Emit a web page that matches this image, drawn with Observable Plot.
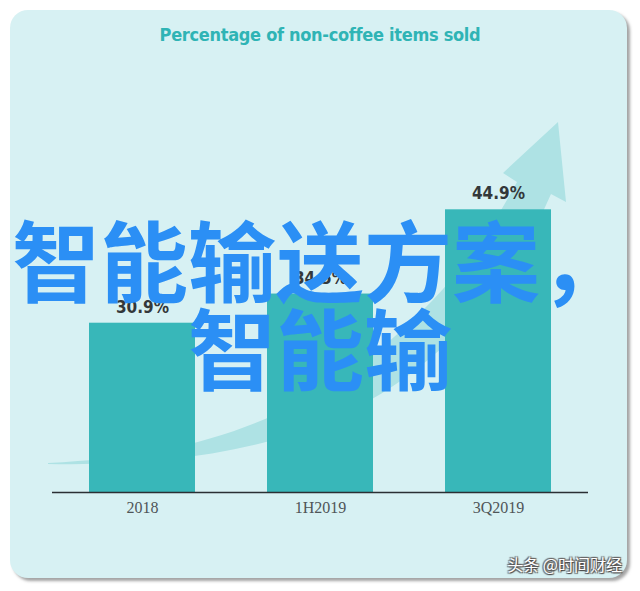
<!DOCTYPE html>
<html>
<head>
<meta charset="utf-8">
<script src="https://cdn.jsdelivr.net/npm/d3@7"></script>
<script src="https://cdn.jsdelivr.net/npm/@observablehq/plot@0.6"></script>
<style>
  html, body { margin: 0; padding: 0; background: #ffffff; }
  #wrap { position: relative; width: 640px; height: 591px; overflow: hidden; }
  #card { position: absolute; left: 10px; top: 10px; width: 617px; height: 568px;
          border-radius: 18px; background: #d7f1f3;
          box-shadow: 3px 3px 3px rgba(90,90,90,0.55); }
  #title { position: absolute; left: 0; width: 640px; top: 24px; text-align: center;
           font-family: "DejaVu Sans Condensed", "DejaVu Sans", sans-serif; font-weight: bold;
           font-size: 18px; color: #2fb4b5; letter-spacing: -0.3px; }
  #deco { position: absolute; left: 0; top: 0; }
  #chart { position: absolute; left: 0; top: 0; }
  #overlay { position: absolute; left: 0; top: 213px; width: 640px; text-align: center;
             font-family: "Noto Sans CJK SC", sans-serif; font-weight: 700; font-size: 88px;
             line-height: 88px; color: #2b8ff5; }
  #mark { position: absolute; right: 18px; top: 552px; font-family: "Noto Sans CJK SC", sans-serif;
          font-size: 16px; color: #ffffff;
          text-shadow: 1px 1px 1px #444, -1px -1px 1px #666, 1px -1px 1px #666, -1px 1px 1px #666; }
</style>
</head>
<body>
<div id="wrap">
  <div id="card"></div>
  <div id="title"></div>
  <svg id="deco" width="640" height="591">
    <path d="M 48 463 C 150 458, 230 440, 300 402 C 380 358, 460 290, 517 182 L 503 173 L 558 122 L 566 202 L 551 194 C 505 300, 425 380, 330 420 C 250 455, 150 466, 48 464 Z" fill="#aee2e4"/>
  </svg>
  <div id="chart"></div>
  <div id="overlay"></div>
  <div id="mark"></div>
</div>
<script>
// ---- data ----
const categories = ["2018", "1H2019", "3Q2019"];
const values = [30.9, 34.5, 44.9];
const valueLabels = ["30.9%", "34.5%", "44.9%"];
const titleText = "Percentage of non-coffee items sold";
const overlayLines = ["智能输送方案，", "智能输"];
const watermark = "头条 @时间财经";
const yBase = 10;
const yTop = 50;

const rows = categories.map((c, i) => ({ cat: c, value: values[i], label: valueLabels[i] }));

document.getElementById("title").textContent = titleText;
document.getElementById("overlay").innerHTML = overlayLines.map(s => `<div>${s}</div>`).join("");
document.getElementById("mark").textContent = watermark;

const chart = Plot.plot({
  width: 640,
  height: 591,
  marginLeft: 52,
  marginRight: 52,
  marginTop: 168,
  marginBottom: 99,
  style: { background: "transparent", overflow: "visible" },
  x: { domain: categories, paddingInner: 0.406, paddingOuter: 0.203, label: null },
  y: { domain: [yBase, yTop], axis: null },
  marks: [
    Plot.barY(rows, { x: "cat", y1: yBase, y2: "value", fill: "#38b7b9" }),
    Plot.ruleY([yBase], { stroke: "#2a2f33", strokeWidth: 1.5 }),
    Plot.axisX({ tickSize: 0, tickPadding: 9, fontSize: 16, fill: "#4f5558",
                 fontFamily: "Liberation Serif, serif", label: null }),
    Plot.text(rows, { x: "cat", y: "value", text: "label", dy: -16, fill: "#33383a",
                      fontSize: 17, fontWeight: "bold",
                      fontFamily: "DejaVu Sans Condensed, DejaVu Sans, sans-serif" })
  ]
});
document.getElementById("chart").appendChild(chart);
</script>
</body>
</html>
